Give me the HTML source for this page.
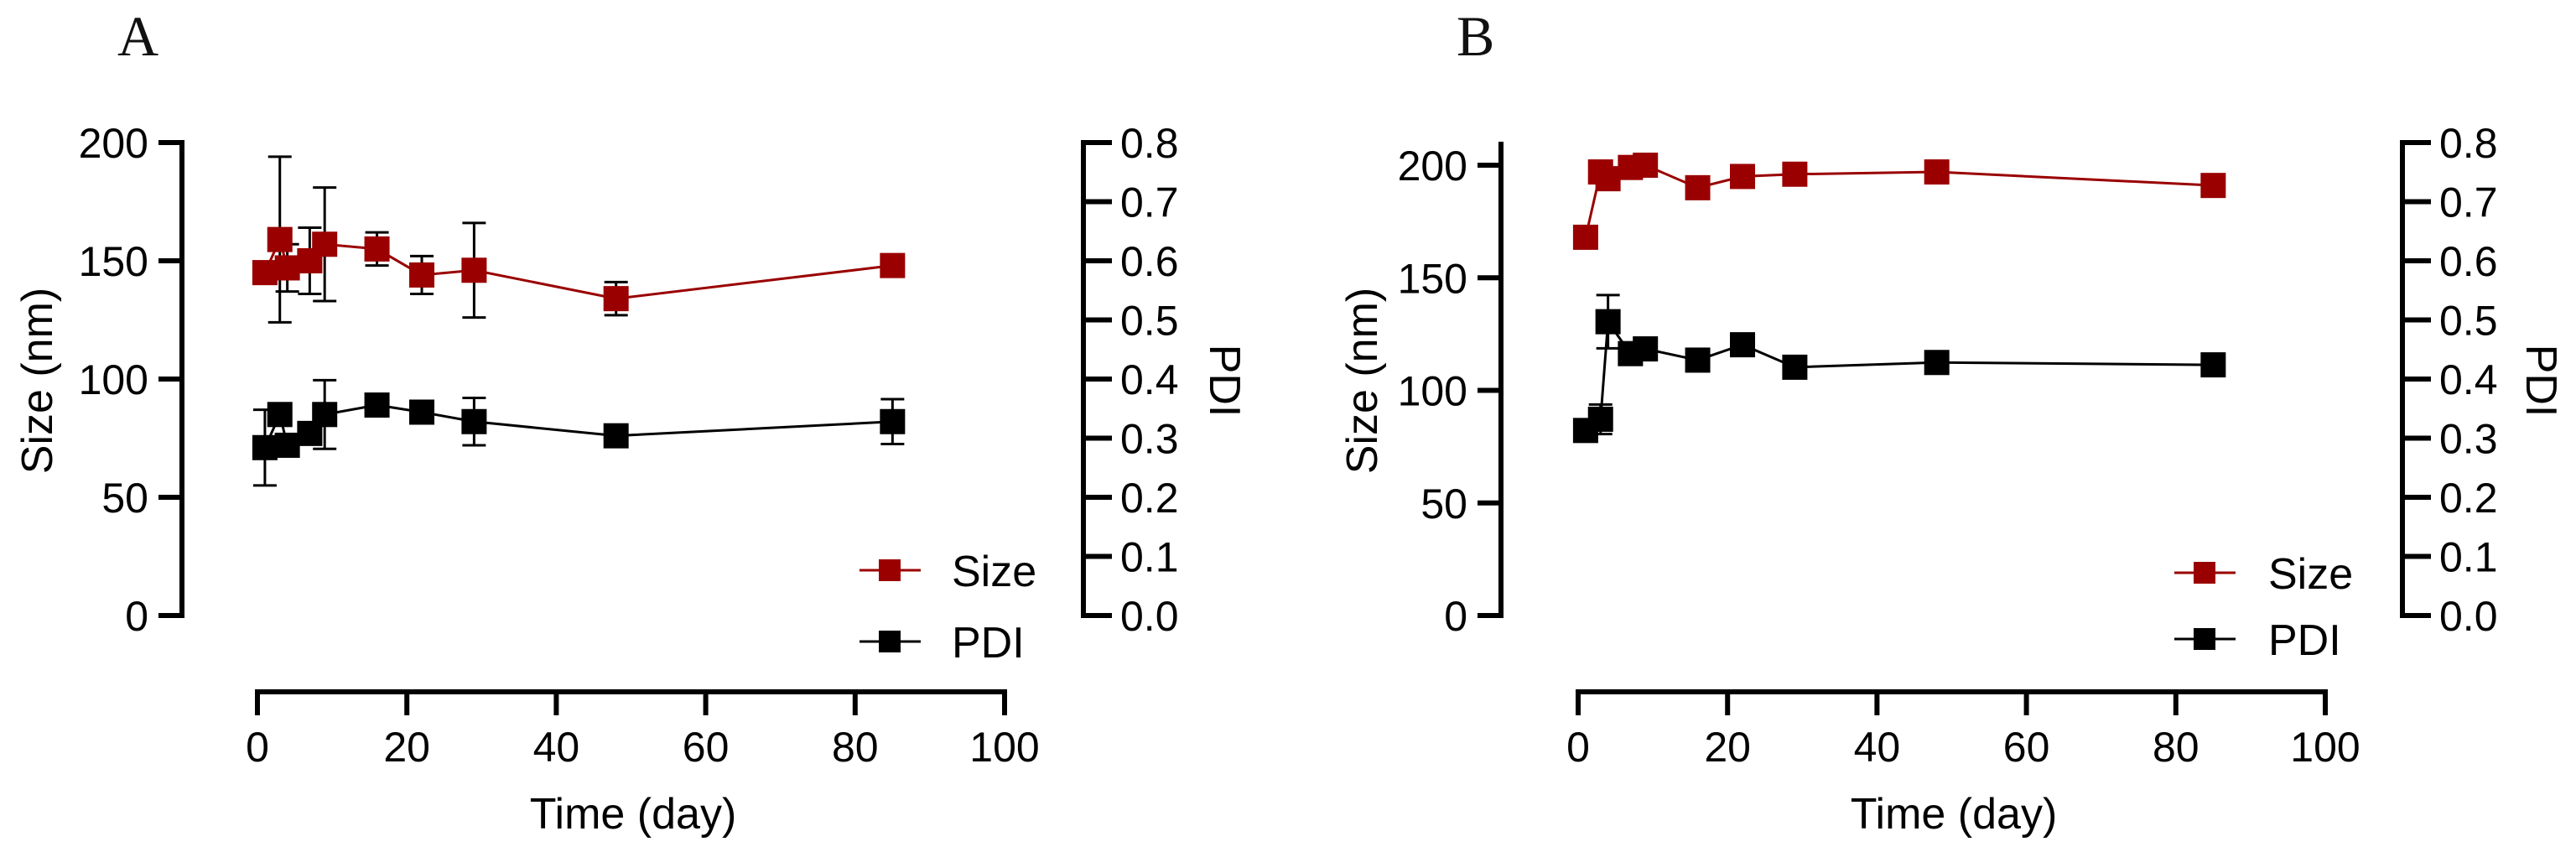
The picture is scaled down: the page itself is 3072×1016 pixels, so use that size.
<!DOCTYPE html>
<html><head><meta charset="utf-8"><style>
html,body{margin:0;padding:0;background:#fff;}
svg{display:block;font-family:"Liberation Sans",Arial,sans-serif;}
</style></head><body>
<svg id="chart" width="3072" height="1016" viewBox="0 0 3072 1016" xmlns="http://www.w3.org/2000/svg"></svg>
<script>
const days = [1,3,4,7,9,16,22,29,48,85];
const sizeA = [145,159,147,150,157,155,144,146,134,148];
const sizeErrA = [0,35,10,14,24,7,8,20,7,0];
const pdiA = [0.284,0.34,0.288,0.308,0.34,0.356,0.344,0.328,0.304,0.328];
const pdiErrA = [0.064,0.01,0.01,0.01,0.058,0.008,0.01,0.04,0.006,0.038];
const sizeB = [168,197,194,199,200,190,195,196,197,191];
const sizeErrB = [0,0,0,0,0,0,0,0,0,0];
const pdiB = [0.313,0.332,0.497,0.443,0.451,0.432,0.458,0.42,0.428,0.424];
const pdiErrB = [0,0.025,0.045,0.01,0,0,0,0,0,0];
const xTicks = [0,20,40,60,80,100];
const sizeTicks = [0,50,100,150,200];
const pdiTicks = [0.0,0.1,0.2,0.3,0.4,0.5,0.6,0.7,0.8];

const NS="http://www.w3.org/2000/svg";
const svg=document.getElementById('chart');
function mk(tag,attrs,parent){const e=document.createElementNS(NS,tag);for(const k in attrs)e.setAttribute(k,attrs[k]);(parent||svg).appendChild(e);return e;}

const yBottom=734, yTop=170, RED='#9a0000';
const panels=[
 {id:'a',letter:'A',lx:140,ax:217,rx:1292,x0:307,x1:1198,xAxisY:825,sizeMax:200,sizeTop:170,yTitleX:44,rTitleX:1461,tCenter:755,legX:1025,legTextX:1135,legY:[680,765],size:sizeA,sizeErr:sizeErrA,pdi:pdiA,pdiErr:pdiErrA},
 {id:'b',letter:'B',lx:1737,ax:1790,rx:2865,x0:1882,x1:2773,xAxisY:825,sizeMax:200*(734-172)/(734-197),sizeTop:172,yTitleX:1624,rTitleX:3031,tCenter:2330,legX:2593,legTextX:2705,legY:[683,762],size:sizeB,sizeErr:sizeErrB,pdi:pdiB,pdiErr:pdiErrB}
];
panels.forEach(p=>{
 const g=mk('g',{});
 
 
 const xs=v=>p.x0+(p.x1-p.x0)*v/100;
 const ys=v=>yBottom-(yBottom-p.sizeTop)*v/p.sizeMax;
 const yp=v=>yBottom-(yBottom-yTop)*v/0.8;
 const lt=mk('text',{x:p.lx,y:66,'font-family':'Liberation Serif,serif','font-size':68,fill:'#111'},g);lt.textContent=p.letter;
 
 const la=mk('g',{},g);
 mk('line',{x1:p.ax,y1:p.sizeTop-3,x2:p.ax,y2:yBottom+3,stroke:'#000','stroke-width':6},la);
 sizeTicks.forEach(t=>{const y=ys(t);mk('line',{x1:p.ax-28,y1:y,x2:p.ax,y2:y,stroke:'#000','stroke-width':6},la);
  const tx=mk('text',{x:p.ax-40,y:y+18,'text-anchor':'end','font-size':50,fill:'#000'},la);tx.textContent=t;});
 const ra=mk('g',{},g);
 mk('line',{x1:p.rx,y1:yTop-3,x2:p.rx,y2:yBottom+3,stroke:'#000','stroke-width':6},ra);
 pdiTicks.forEach(t=>{const y=yp(t);mk('line',{x1:p.rx,y1:y,x2:p.rx+34,y2:y,stroke:'#000','stroke-width':6},ra);
  const tx=mk('text',{x:p.rx+44,y:y+18,'font-size':50,fill:'#000'},ra);tx.textContent=t.toFixed(1);});
 const xa=mk('g',{},g);
 mk('line',{x1:p.x0-3,y1:p.xAxisY,x2:p.x1+3,y2:p.xAxisY,stroke:'#000','stroke-width':6},xa);
 xTicks.forEach(t=>{const x=xs(t);mk('line',{x1:x,y1:p.xAxisY,x2:x,y2:p.xAxisY+28,stroke:'#000','stroke-width':6},xa);
  const tx=mk('text',{x:x,y:908,'text-anchor':'middle','font-size':50,fill:'#000'},xa);tx.textContent=t;});
 const xt=mk('text',{x:p.tCenter,y:988,'text-anchor':'middle','font-size':52,fill:'#000'},g);xt.textContent='Time (day)';
 
 const yt=mk('text',{x:0,y:0,'text-anchor':'middle','font-size':52,fill:'#000',transform:`translate(${p.yTitleX+18},454) rotate(-90)`},g);yt.textContent='Size (nm)';
 
 const rt=mk('text',{x:0,y:0,'text-anchor':'middle','font-size':52,fill:'#000',transform:`translate(${p.rTitleX-18},454) rotate(90)`},g);rt.textContent='PDI';
 
 const series=[{name:'pdi',col:'#000',vals:p.pdi,err:p.pdiErr,f:yp},{name:'size',col:RED,vals:p.size,err:p.sizeErr,f:ys}];
 series.forEach(s=>{
  const sg=mk('g',{},g);
  days.forEach((d,i)=>{if(s.err[i]>0){const x=xs(d),y1=s.f(s.vals[i]+s.err[i]),y2=s.f(s.vals[i]-s.err[i]);
   const eb=mk('path',{d:`M${x},${y1}V${y2}M${x-14},${y1}H${x+14}M${x-14},${y2}H${x+14}`,stroke:'#000','stroke-width':3,fill:'none'},sg);
   }});
  const pts=days.map((d,i)=>xs(d)+','+s.f(s.vals[i])).join(' ');
  const pl=mk('polyline',{points:pts,fill:'none',stroke:s.col,'stroke-width':3},sg);
  
  days.forEach((d,i)=>{const r=mk('rect',{x:xs(d)-15,y:s.f(s.vals[i])-15,width:30,height:30,fill:s.col},sg);
   });
 });
 [['Size',RED],['PDI','#000']].forEach((l,i)=>{
  const lg=mk('g',{},g);
  const y=p.legY[i];
  mk('line',{x1:p.legX,y1:y,x2:p.legX+73,y2:y,stroke:l[1],'stroke-width':3},lg);
  mk('rect',{x:p.legX+23,y:y-13,width:26,height:26,fill:l[1]},lg);
  const t=mk('text',{x:p.legTextX,y:y+19,'font-size':52,fill:'#000'},lg);t.textContent=l[0];
 });
});
</script>
</body></html>
